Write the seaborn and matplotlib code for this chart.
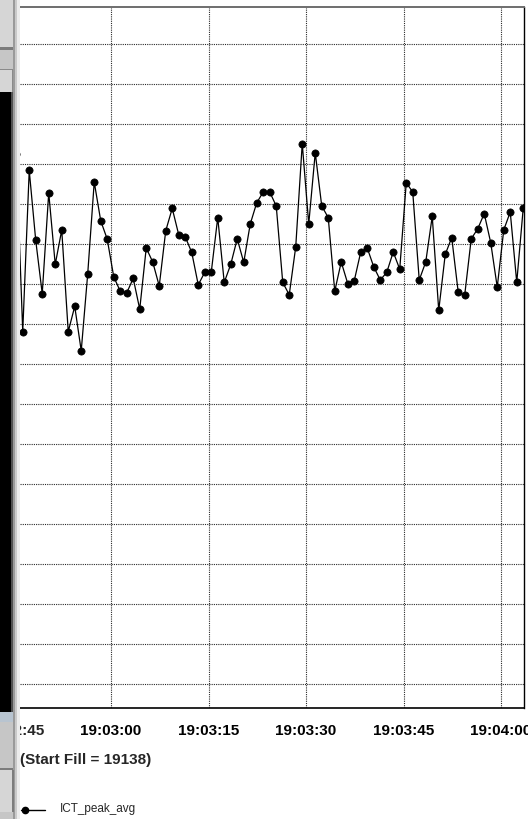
import pandas as pd
import seaborn as sns
import matplotlib.pyplot as plt
import matplotlib.dates as mdates
import matplotlib.transforms as mtransforms
from matplotlib.patches import Rectangle
from matplotlib.lines import Line2D

# data (1 sample per second, first one is clipped at the left edge)
t_start = '2010-01-01 19:02:45.42'
ict_peak_avg = [13.25,
    8.81, 12.84, 11.09, 9.76, 12.28, 10.49, 11.35, 8.81, 9.44, 8.33,
    10.26, 12.55, 11.58, 11.12, 10.18, 9.82, 9.78, 10.14, 9.37, 10.90,
    10.55, 9.95, 11.33, 11.89, 11.23, 11.18, 10.79, 9.98, 10.29, 10.29,
    11.66, 10.04, 10.49, 11.13, 10.54, 11.50, 12.03, 12.30, 12.30, 11.95,
    10.04, 9.73, 10.93, 13.51, 11.50, 13.28, 11.95, 11.66, 9.82, 10.55,
    10.01, 10.08, 10.80, 10.90, 10.43, 10.10, 10.29, 10.80, 10.37, 12.53,
    12.30, 10.10, 10.55, 11.69, 9.34, 10.74, 11.16, 9.79, 9.73, 11.13,
    11.38, 11.76, 11.03, 9.92, 11.35, 11.80, 10.04, 11.90]
times = pd.date_range(t_start, periods=len(ict_peak_avg), freq='1s')
df = pd.DataFrame({'time': times, 'ICT_peak_avg': ict_peak_avg})

fill_label = '(Start Fill = 19138)'
series_name = 'ICT_peak_avg'

sns.set_style('white')
plt.rcParams['font.family'] = ['Liberation Sans', 'DejaVu Sans']

W, H = 528, 819
def fx(p): return p / W
def fy(p): return 1 - p / H

fig = plt.figure(figsize=(W / 100, H / 100), dpi=100)
ax = fig.add_axes([fx(20), fy(708), fx(523.5) - fx(20), fy(7) - fy(708)])

sns.lineplot(data=df, x='time', y='ICT_peak_avg', ax=ax, color='black', linewidth=0.9,
             marker='o', markersize=5.2, markeredgecolor='black', markeredgewidth=0.5,
             legend=False)

ax.set_xlim(pd.Timestamp('2010-01-01 19:02:46.0'), pd.Timestamp('2010-01-01 19:04:03.46'))
ax.set_ylim(-0.6, 16.925)
ax.set_yticks(range(17))
ax.xaxis.set_major_locator(mdates.SecondLocator(bysecond=[0, 15, 30, 45]))
ax.xaxis.set_major_formatter(mdates.DateFormatter('%H:%M:%S'))
ax.set_xlabel('')
ax.set_ylabel('')
ax.set_axisbelow(True)
ax.grid(True, color='#2a2a2a', linestyle=(0, (1, 1)), linewidth=0.8)
ax.tick_params(axis='y', length=0, labelleft=False)
ax.tick_params(axis='x', direction='out', length=2, width=1, color='black',
               pad=9.5, labelsize=11, labelcolor='black')
for lab in ax.get_xticklabels():
    lab.set_fontweight('bold')

ax.spines['left'].set_visible(False)
ax.spines['top'].set_color('#6e6e6e')
ax.spines['top'].set_linewidth(1.4)
ax.spines['right'].set_color('black')
ax.spines['right'].set_linewidth(1)
ax.spines['bottom'].set_color('black')
ax.spines['bottom'].set_linewidth(1.2)

# label of the 19:02:45 tick, which sits just left of the visible plot
off = mtransforms.ScaledTranslation(0, -11.5 / 72, fig.dpi_scale_trans)
tr = mtransforms.blended_transform_factory(ax.transData, ax.transAxes) + off
ax.text(mdates.date2num(pd.Timestamp('2010-01-01 19:02:45')), 0, '19:02:45', transform=tr,
        ha='center', va='top', fontsize=11, fontweight='bold', clip_on=False)

fig.text(fx(20), fy(764), fill_label, fontsize=11, fontweight='bold', ha='left', va='baseline')

# legend entry
fig.add_artist(Line2D([fx(21), fx(45)], [fy(810), fy(810)], color='black', lw=1,
                      transform=fig.transFigure))
fig.add_artist(Line2D([fx(25)], [fy(810)], color='black', marker='o', markersize=4.5,
                      transform=fig.transFigure))
fig.text(fx(60), fy(812), series_name, fontsize=8.5, ha='left', va='baseline')

# window panel on the left
def rect(x0, y0, x1, y1, c):
    fig.add_artist(Rectangle((fx(x0), fy(y1)), fx(x1) - fx(x0), fy(y0) - fy(y1),
                             facecolor=c, edgecolor='none', transform=fig.transFigure,
                             zorder=5))

rect(0, 0, 19.5, 819, '#c6c6c6')
rect(0, 0, 13, 47, '#d6d6d6')
rect(13, 0, 15, 50, '#7c7c7c')
rect(0, 47, 15, 50, '#7c7c7c')
rect(0, 69, 13, 70, '#8a8a8a')
rect(0, 70, 12, 92, '#d6d6d6')
rect(12, 70, 13.5, 92, '#8a8a8a')
rect(0, 92, 11, 712, '#000000')
rect(11, 92, 12.7, 712, '#505050')
rect(12.7, 0, 15, 819, '#9a9a9a')
rect(15, 0, 16.7, 819, '#cacaca')
rect(16.7, 0, 19.5, 819, '#ececec')
rect(0, 712, 13, 722, '#b8c4d0')
rect(0, 768, 13, 770, '#7c7c7c')
rect(0, 770, 12, 812, '#d6d6d6')
rect(12, 770, 13.5, 812, '#7c7c7c')

plt.savefig('out.png', dpi=100)
